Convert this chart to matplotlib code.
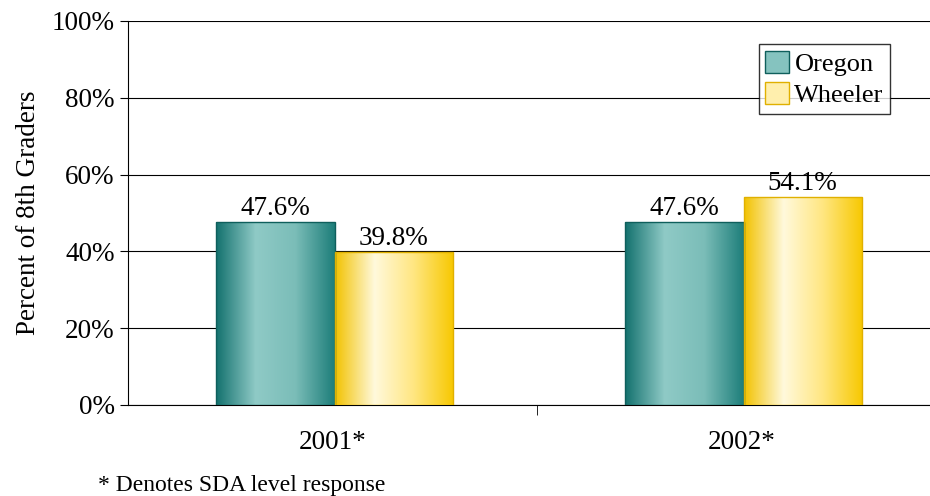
import matplotlib
matplotlib.use("Agg")
import matplotlib.pyplot as plt
import matplotlib.patches as mpatches
from matplotlib.colors import LinearSegmentedColormap
import numpy as np

plt.rcParams['font.family'] = ['Liberation Serif', 'DejaVu Serif']

years = ["2001*", "2002*"]
series = ["Oregon", "Wheeler"]
values = {"Oregon": [47.6, 47.6], "Wheeler": [39.8, 54.1]}
labels = {"Oregon": ["47.6%", "47.6%"], "Wheeler": ["39.8%", "54.1%"]}

cmaps = {
    "Oregon": LinearSegmentedColormap.from_list("o", ["#13716e", "#8fcac6", "#7bbdb8", "#1d7e7a"]),
    "Wheeler": LinearSegmentedColormap.from_list("w", ["#f2c200", "#fff9dc", "#ffe680", "#f7c800"]),
}
edges = {"Oregon": "#0f5f5c", "Wheeler": "#e0b000"}

fig = plt.figure(figsize=(9.3, 4.96), dpi=100)
ax = fig.add_axes([128 / 930, 1 - 405 / 496, 818 / 930, 384 / 496])

w = 0.289
grad = np.linspace(0, 1, 256).reshape(1, -1)
for i, year in enumerate(years):
    for j, s in enumerate(series):
        x0 = i - w + j * w + 0.005
        v = values[s][i]
        ax.imshow(grad, cmap=cmaps[s], aspect='auto', extent=[x0, x0 + w, 0, v], zorder=3)
        ax.add_patch(mpatches.Rectangle((x0, 0), w, v, fill=False, ec=edges[s], lw=1, zorder=4))
        ax.text(x0 + w / 2, v + 0.4, labels[s][i], ha='center', va='bottom', fontsize=19.5, zorder=5)

ax.set_xlim(-0.5, 1.5)
ax.set_ylim(0, 100)
ax.set_yticks(range(0, 101, 20))
ax.set_yticklabels([f"{t}%" for t in range(0, 101, 20)], fontsize=19.5)
ax.set_xticks([0, 1])
ax.set_xticklabels(years, fontsize=19.5)
ax.set_xticks([0.5], minor=True)
ax.tick_params(axis='x', which='major', length=0, pad=18)
ax.tick_params(axis='x', which='minor', length=7, direction='out')
ax.tick_params(axis='y', length=6, direction='out')
ax.grid(axis='y', color='black', lw=0.8, zorder=0)
for sp in ['top', 'right']:
    ax.spines[sp].set_visible(False)
ax.set_ylabel("Percent of 8th Graders", fontsize=19.5, labelpad=8)

handles = [mpatches.Patch(facecolor=cmaps[s](0.5), edgecolor=edges[s], label=s) for s in series]
leg = ax.legend(handles=handles, loc='upper right', bbox_to_anchor=(0.932, 0.94), fontsize=19,
                frameon=True, fancybox=False, edgecolor='black', handlelength=0.9, handleheight=0.9,
                handletextpad=0.2, borderpad=0.25, labelspacing=0.25, borderaxespad=0)
leg.get_frame().set_linewidth(1)

fig.text(98 / 930, 1 - 485 / 496, "* Denotes SDA level response", fontsize=17, va='center')

fig.savefig("out.png", dpi=100)
